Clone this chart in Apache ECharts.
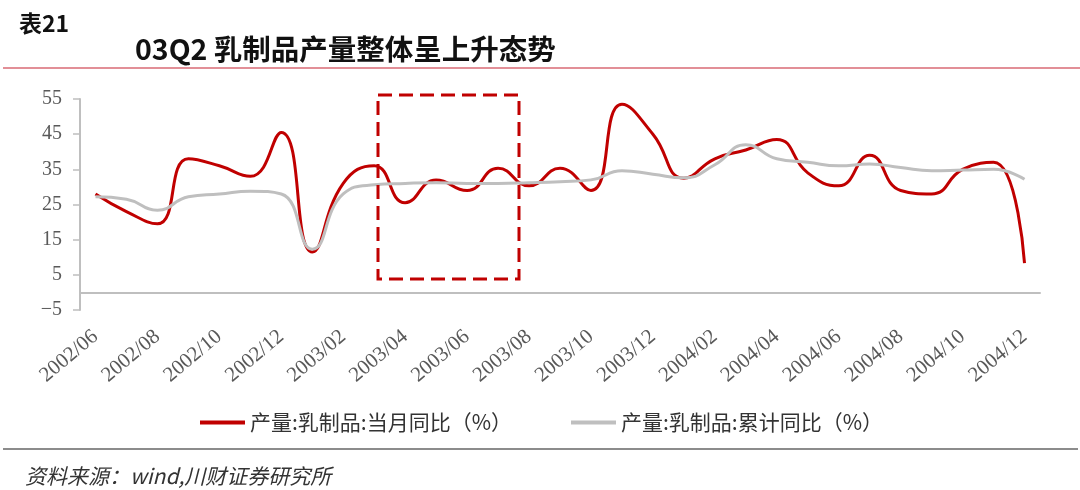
<!DOCTYPE html>
<html>
<head>
<meta charset="utf-8">
<script src="https://cdn.jsdelivr.net/npm/echarts@6/dist/echarts.min.js"></script>
<style>
  html, body { margin: 0; padding: 0; background: #fff; }
  #chart { width: 1080px; height: 490px; }
</style>
</head>
<body>
<div id="chart"></div>
<script>
// months 2002/06 .. 2004/12
const months = [
  '2002/06', '2002/07', '2002/08', '2002/09', '2002/10', '2002/11', '2002/12',
  '2003/01', '2003/02', '2003/03', '2003/04', '2003/05', '2003/06', '2003/07',
  '2003/08', '2003/09', '2003/10', '2003/11', '2003/12', '2004/01', '2004/02',
  '2004/03', '2004/04', '2004/05', '2004/06', '2004/07', '2004/08', '2004/09',
  '2004/10', '2004/11', '2004/12'
];
// 当月同比 (%)
const monthlyYoY = [
  28, 23, 19.5, 38, 36, 33, 45.5,
  11.5, 31, 36, 25.5, 32, 29, 35.3,
  30.3, 35.3, 29, 53.5, 45, 32.5, 38,
  40.5, 43.5, 34, 30.3, 39, 29, 28,
  35, 37, 8.3
];
// 累计同比 (%)
const cumulativeYoY = [
  27.2, 26.5, 23.4, 27.2, 28, 28.8, 28,
  12.3, 28, 30.6, 31, 31.2, 31, 31,
  31.2, 31.5, 32, 34.6, 33.6, 32.6, 36.3,
  42, 38, 37, 36, 36.5, 35.5, 34.6,
  34.8, 35, 32.2
];
const seriesNames = ['产量:乳制品:当月同比（%）', '产量:乳制品:累计同比（%）'];

const RED = '#c00000';
const GREY = '#bfbfbf';
const AXIS = '#bfbfbf';
const serif = "'Liberation Serif', 'DejaVu Serif', serif";
const cjk = "'Noto Sans CJK SC', sans-serif";

const myChart = echarts.init(document.getElementById('chart'));

const option = {
    backgroundColor: '#fff',
    animation: false,
    title: [
        {
            text: '表21',
            left: 14,
            top: 7,
            textStyle: { fontFamily: cjk, fontSize: 23, fontWeight: 'bold', color: '#111' }
        },
        {
            text: '03Q2 乳制品产量整体呈上升态势',
            left: 130,
            top: 30,
            textStyle: { fontFamily: cjk, fontSize: 28.5, fontWeight: 'bold', color: '#111' }
        },
        {
            text: '资料来源：wind,川财证券研究所',
            left: 20,
            top: 461,
            textStyle: { fontFamily: cjk, fontSize: 21, fontStyle: 'italic', fontWeight: 'normal', color: '#333' }
        }
    ],
    legend: [
        {
            data: [seriesNames[0]],
            left: 195,
            top: 407,
            icon: 'rect',
            itemWidth: 45,
            itemHeight: 4,
            textStyle: { fontFamily: cjk, fontSize: 21, color: '#333' }
        },
        {
            data: [seriesNames[1]],
            left: 566,
            top: 407,
            icon: 'rect',
            itemWidth: 45,
            itemHeight: 4,
            textStyle: { fontFamily: cjk, fontSize: 21, color: '#333' }
        }
    ],
    grid: {
        left: 80,
        right: 40,
        top: 99,
        bottom: 180,
        containLabel: false
    },
    xAxis: {
        type: 'category',
        data: months,
        boundaryGap: true,
        axisLine: {
            onZero: true,
            lineStyle: { color: AXIS, width: 2 }
        },
        axisTick: {
            interval: 1,
            length: 6,
            lineStyle: { color: AXIS, width: 1.5 }
        },
        axisLabel: {
            interval: 1,
            rotate: 40,
            margin: 24,
            fontFamily: serif,
            fontSize: 21,
            color: '#595959'
        },
        splitLine: { show: false }
    },
    yAxis: {
        type: 'value',
        min: -5,
        max: 55,
        interval: 10,
        axisLine: {
            show: true,
            lineStyle: { color: AXIS, width: 2 }
        },
        axisTick: {
            show: true,
            length: 7,
            lineStyle: { color: AXIS, width: 1.5 }
        },
        axisLabel: {
            margin: 18,
            fontFamily: serif,
            fontSize: 20,
            color: '#595959',
            formatter: v => String(v).replace('-', '\u2212')
        },
        splitLine: { show: false }
    },
    graphic: [
        // red rule under the title
        {
            type: 'line',
            shape: { x1: 3, y1: 68, x2: 1080, y2: 68 },
            style: { stroke: '#d86a74', lineWidth: 1.5 }
        },
        // grey rule above the source line
        {
            type: 'line',
            shape: { x1: 3, y1: 449, x2: 1078, y2: 449 },
            style: { stroke: '#8c8c8c', lineWidth: 2 }
        },
        // dashed highlight box
        {
            type: 'rect',
            shape: { x: 378, y: 95, width: 141, height: 184 },
            style: { fill: 'none', stroke: RED, lineWidth: 3, lineDash: [14, 7] },
            z: 10
        }
    ],
    series: [
        {
            name: seriesNames[0],
            type: 'line',
            data: monthlyYoY,
            smooth: 0.5,
            symbol: 'none',
            itemStyle: { color: RED },
            lineStyle: { color: RED, width: 3 }
        },
        {
            name: seriesNames[1],
            type: 'line',
            data: cumulativeYoY,
            smooth: 0.5,
            symbol: 'none',
            itemStyle: { color: GREY },
            lineStyle: { color: GREY, width: 3 }
        }
    ]
};

myChart.setOption(option);
</script>
</body>
</html>
